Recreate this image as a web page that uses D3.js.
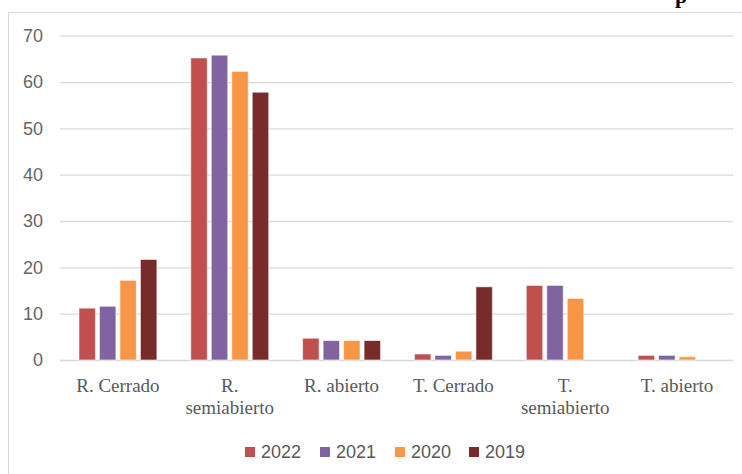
<!DOCTYPE html>
<html>
<head>
<meta charset="utf-8">
<script src="https://cdn.jsdelivr.net/npm/d3@7"></script>
<style>
    body { margin: 0; background: #fff; }
    svg { display: block; }
</style>
</head>
<body>
<div id="chart"></div>
<script>
(function(){
    const categories = ['R. Cerrado', 'R. semiabierto', 'R. abierto', 'T. Cerrado', 'T. semiabierto', 'T. abierto'];
    const categoryLines = [['R. Cerrado'], ['R.', 'semiabierto'], ['R. abierto'], ['T. Cerrado'], ['T.', 'semiabierto'], ['T. abierto']];
    const years = ['2022', '2021', '2020', '2019'];
    const colors = ['#C0504D', '#8064A2', '#F79646', '#772C2A'];
    const values2022 = [11.2, 65.2, 4.7, 1.3, 16.1, 1.0];
    const values2021 = [11.6, 65.8, 4.2, 1.0, 16.1, 1.0];
    const values2020 = [17.2, 62.3, 4.2, 1.9, 13.3, 0.7];
    const values2019 = [21.7, 57.8, 4.2, 15.8, 0, 0];
    const yTicks = [0, 10, 20, 30, 40, 50, 60, 70];

    const series = [values2022, values2021, values2020, values2019];

    const width = 742;
    const height = 474;
    const plot = { left: 62, right: 733, top: 35.7, bottom: 360 };

    const svg = d3.select('#chart')
        .append('svg')
            .attr('width', width)
            .attr('height', height);

    svg.append('rect')
        .attr('width', width)
        .attr('height', height)
        .style('fill', '#fff');

    // chart frame (cut off on right and bottom)
    svg.append('rect')
        .attr('x', 8.5)
        .attr('y', 12.5)
        .attr('width', 800)
        .attr('height', 500)
        .style('fill', 'none')
        .style('stroke', '#d9d9d9')
        .style('stroke-width', 1);

    // cut-off title fragment
    svg.append('text')
        .attr('x', 675)
        .attr('y', 3)
        .style('font-family', 'Liberation Serif')
        .style('font-weight', 'bold')
        .style('font-size', '22px')
        .style('fill', '#000')
        .text('p');

    const yScale = d3.scaleLinear()
        .domain([0, 70])
        .range([plot.bottom, plot.top]);

    const x0 = d3.scaleBand()
        .domain(categories)
        .range([plot.left, plot.right])
        .paddingInner(0.303)
        .paddingOuter(0.1515);

    const x1 = d3.scaleBand()
        .domain(years)
        .range([0, x0.bandwidth()])
        .paddingInner(0.195);

    const yAxis = svg.append('g')
        .attr('transform', `translate(60, 0)`)
        .call(d3.axisLeft(yScale).tickValues(yTicks).tickSize(-673).tickPadding(17));

    yAxis.select('.domain').remove();
    yAxis.selectAll('.tick line')
        .style('stroke', '#d9d9d9')
        .style('stroke-width', 1.3);
    yAxis.selectAll('.tick text')
        .style('font-family', 'Liberation Sans, Arial, sans-serif')
        .style('font-size', '18px')
        .style('fill', '#666');

    const groups = svg.selectAll('.group')
        .data(categories)
        .enter()
        .append('g')
            .attr('class', 'group')
            .attr('transform', d => `translate(${x0(d)}, 0)`);

    groups.selectAll('rect')
        .data((d, i) => years.map((y, j) => ({ year: y, value: series[j][i], color: colors[j] })))
        .enter()
        .append('rect')
            .filter(d => d.value > 0)
            .attr('x', d => x1(d.year))
            .attr('y', d => yScale(d.value))
            .attr('width', x1.bandwidth())
            .attr('height', d => yScale(0) - yScale(d.value))
            .style('fill', d => d.color)
            .style('stroke', '#fff')
            .style('stroke-opacity', 0.6)
            .style('stroke-width', 1);

    // category labels
    const labels = svg.selectAll('.cat-label')
        .data(categories)
        .enter()
        .append('text')
            .attr('class', 'cat-label')
            .attr('text-anchor', 'middle')
            .attr('x', d => x0(d) + x0.bandwidth() / 2)
            .attr('y', 392)
            .style('font-family', 'Liberation Serif, serif')
            .style('font-size', '19px')
            .style('fill', '#595959');

    labels.selectAll('tspan')
        .data((d, i) => categoryLines[i])
        .enter()
        .append('tspan')
            .attr('x', function(){ return d3.select(this.parentNode).attr('x'); })
            .attr('dy', (d, i) => i === 0 ? 0 : 22)
            .text(d => d);

    // legend
    const legendX = [245, 320, 395, 469];
    const legend = svg.selectAll('.legend')
        .data(years)
        .enter()
        .append('g')
            .attr('class', 'legend')
            .attr('transform', (d, i) => `translate(${legendX[i]}, 447)`);

    legend.append('rect')
        .attr('width', 10)
        .attr('height', 10)
        .style('fill', (d, i) => colors[i]);

    legend.append('text')
        .attr('x', 16)
        .attr('y', 11)
        .style('font-family', 'Liberation Sans, Arial, sans-serif')
        .style('font-size', '18px')
        .style('fill', '#595959')
        .text(d => d);
}())
</script>
</body>
</html>
